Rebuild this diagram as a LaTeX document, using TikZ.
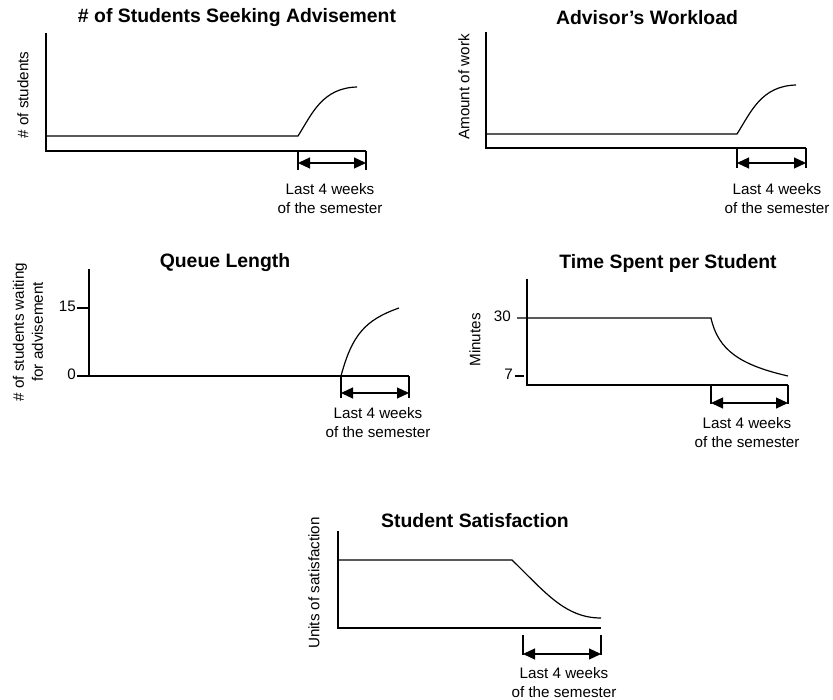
\documentclass[tikz,border=0pt]{standalone}
\usepackage{fontspec}
\setmainfont{Liberation Sans}
\usepackage{tikz}
\usetikzlibrary{arrows.meta}

\begin{document}
\begin{tikzpicture}[
      x=1pt, y=-1pt,
      font=\fontsize{15.2}{19}\selectfont,
      title/.style={font=\fontsize{19.4}{23}\selectfont\bfseries},
      axis/.style={line width=1.2pt},
      trend/.style={line width=1.2pt},
      tickmark/.style={line width=1.2pt},
      span/.style={line width=1.2pt, {Triangle[length=12pt,width=11pt]}-{Triangle[length=12pt,width=11pt]}},
      ylab/.style={rotate=90, align=center},
      note/.style={align=center},
      tiklab/.style={anchor=east, inner sep=1pt}
  ]
    \useasboundingbox (0,0) rectangle (833,700);

    % students seeking advisement
    \node[title] (t1) at (237,18) {\# of Students Seeking Advisement};
    \node[ylab] (y1) at (23,95) {\# of students};
    \draw[axis] (46,33) -- (46,151) -- (366,151);
    \draw[trend] (46,136) -- (298,136) .. controls (312,114) and (322,88) .. (357,87);
    \draw[tickmark] (298,151) -- (298,170) (366,151) -- (366,170);
    \draw[span] (298,163) -- (366,163);
    \node[note] (n1) at (330,198.5) {Last 4 weeks\\of the semester};

    % advisor's workload
    \node[title] (t2) at (647,18) {Advisor’s Workload};
    \node[ylab] (y2) at (464,87) {Amount of work};
    \draw[axis] (486,32) -- (486,148) -- (806,148);
    \draw[trend] (486,134) -- (737,134) .. controls (751,112) and (761,86) .. (796,85);
    \draw[tickmark] (737,148) -- (737,168) (806,148) -- (806,168);
    \draw[span] (737,163) -- (806,163);
    \node[note] (n2) at (777,199) {Last 4 weeks\\of the semester};

    % queue length
    \node[title] (t3) at (225,263) {Queue Length};
    \node[ylab] (y3) at (28,332) {\# of students waiting\\for advisement};
    \draw[axis] (89,269) -- (89,376) -- (409,376);
    \draw[tickmark] (77,308) -- (89,308) (77,376) -- (89,376);
    \node[tiklab] (k15) at (77,306) {15};
    \node[tiklab] (k0) at (77,374) {0};
    \draw[trend] (341,376) .. controls (352,335) and (365,320) .. (399,308);
    \draw[tickmark] (341,376) -- (341,398) (409,376) -- (409,398);
    \draw[span] (341,393) -- (409,393);
    \node[note] (n3) at (378,423) {Last 4 weeks\\of the semester};

    % time spent per student
    \node[title] (t4) at (668,263) {Time Spent per Student};
    \node[ylab] (y4) at (475,340) {Minutes};
    \draw[axis] (527,279) -- (527,385) -- (788,385);
    \draw[tickmark] (515,376) -- (524,376);
    \node[tiklab] (k30) at (512,316) {30};
    \node[tiklab] (k7) at (514,374) {7};
    \draw[trend] (517,318) -- (711,318) .. controls (718,350) and (740,365) .. (788,376);
    \draw[tickmark] (711,385) -- (711,404) (788,385) -- (788,404);
    \draw[span] (711,403) -- (788,403);
    \node[note] (n4) at (747,432.5) {Last 4 weeks\\of the semester};

    % student satisfaction
    \node[title] (t5) at (475,521) {Student Satisfaction};
    \node[ylab] (y5) at (314,583) {Units of satisfaction};
    \draw[axis] (338,531) -- (338,628) -- (601,628);
    \draw[trend] (338,560) -- (512,560) .. controls (545,592) and (565,618) .. (601,618);
    \draw[tickmark] (523,635) -- (523,655) (601,635) -- (601,655);
    \draw[span] (523,654) -- (601,654);
    \node[note] (n5) at (564,683) {Last 4 weeks\\of the semester};
  \end{tikzpicture}
\end{document}
